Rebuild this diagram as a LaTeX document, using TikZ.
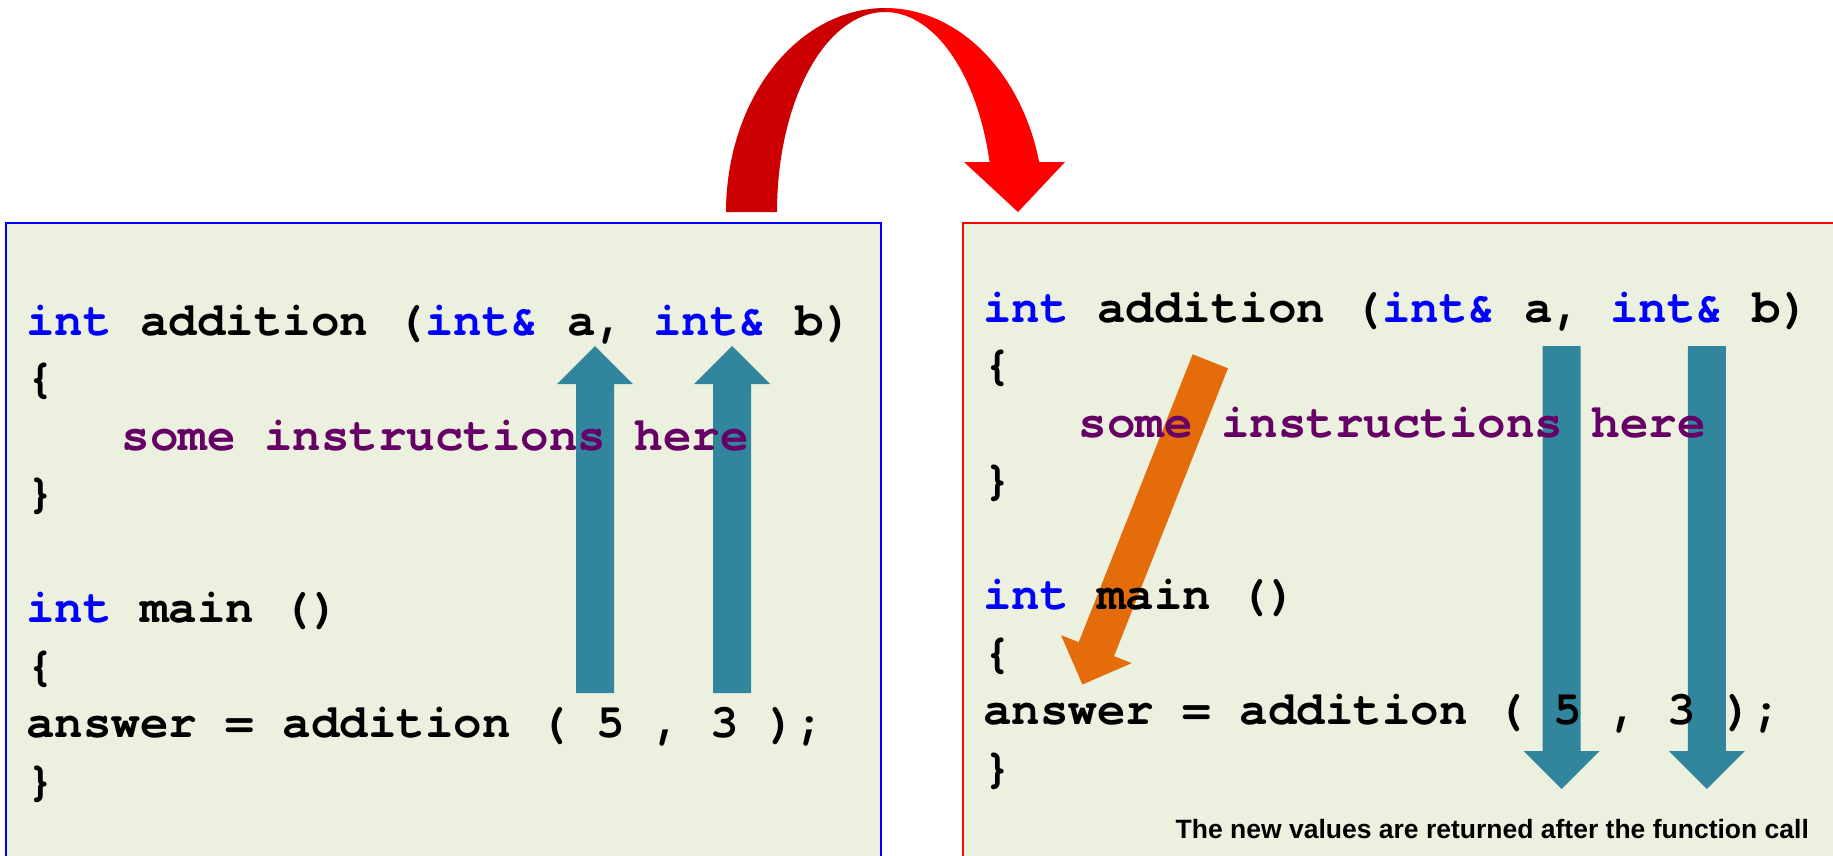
\documentclass[tikz,border=0pt]{standalone}
\usepackage{fontspec}
\newfontfamily\codefont{texgyrecursor}[Extension=.otf, UprightFont=*-regular, BoldFont=*-bold]
\newfontfamily\notefont{Liberation Sans}
\usetikzlibrary{calc}
\definecolor{panel}{HTML}{EBF1DE}
\definecolor{kwcol}{HTML}{0000FF}
\definecolor{stmt}{HTML}{660066}
\definecolor{flow}{HTML}{31859C}
\definecolor{back}{HTML}{E46C0A}
\definecolor{archdark}{HTML}{CC0000}
\definecolor{archlight}{HTML}{FF0000}
\newcommand\kwd[1]{\textcolor{kwcol}{#1}}
% block arrow: 38pt shaft, 76pt x 38pt head, from tail #2 to tip #3
\newcommand\blockarrow[4]{%
  \coordinate (#4base) at ($(#3)!38pt!(#2)$);
  \fill[#1] ($(#2)!19pt!90:(#3)$) -- ($(#4base)!19pt!90:(#3)$)
    -- ($(#4base)!38pt!90:(#3)$) -- (#3) -- ($(#4base)!38pt!-90:(#3)$)
    -- ($(#4base)!19pt!-90:(#3)$) -- ($(#2)!19pt!-90:(#3)$) -- cycle;}
\begin{document}
\begin{tikzpicture}[x=1pt,y=-1pt,
  codeline/.style={anchor=base west, inner sep=0pt,
    font=\codefont\bfseries\fontsize{47.5}{57.5}\selectfont},
  note/.style={anchor=base west, inner sep=0pt,
    font=\notefont\bfseries\fontsize{26.5}{32}\selectfont},
  panelbox/.style={fill=panel, line width=2.5pt}]
\useasboundingbox (0,0) rectangle (1833,855);
\clip (0,0) rectangle (1833,855);
\fill[white] (0,0) rectangle (1833,855);

% arching call arrow: darker rising half, bright falling half with head
\fill[archdark]
  plot[domain=180:90,samples=60] ({885+159*cos(\x)},{212-204*sin(\x)})
  -- plot[domain=90:180,samples=60] ({885+108*cos(\x)},{212-200*sin(\x)})
  -- cycle;
\fill[archlight]
  plot[domain=90:14.19,samples=60] ({885+159*cos(\x)},{212-204*sin(\x)})
  -- (1065,162) -- (1018,212) -- (964,162)
  -- plot[domain=14.48:90,samples=60] ({885+108*cos(\x)},{212-200*sin(\x)})
  -- cycle;

% panels
\draw[panelbox, draw=blue] (6,223) rectangle (881,900);
\draw[panelbox, draw=red] (963,223) rectangle (1900,900);

% argument flow arrows
\coordinate (aTail) at (595,693);    \coordinate (aTip) at (595,346);
\coordinate (bTail) at (732,693);    \coordinate (bTip) at (732,346);
\coordinate (cTail) at (1561.5,346); \coordinate (cTip) at (1561.5,789);
\coordinate (dTail) at (1706.8,346); \coordinate (dTip) at (1706.8,789);
\coordinate (eTail) at (1210.3,361.3); \coordinate (eTip) at (1082.4,684.5);
\blockarrow{flow}{aTail}{aTip}{a}
\blockarrow{flow}{bTail}{bTip}{b}
\blockarrow{flow}{cTail}{cTip}{c}
\blockarrow{flow}{dTail}{dTip}{d}
\blockarrow{back}{eTail}{eTip}{e}

% caller-side code
\node[codeline] (l1) at (26,335)   {\kwd{int} addition (\kwd{int\&} a, \kwd{int\&} b)};
\node[codeline] (l2) at (26,392.5) {\{};
\node[codeline, text=stmt] (l3) at (121.5,450) {some instructions here};
\node[codeline] (l4) at (26,507.5) {\}};
\node[codeline] (l6) at (26,622.5) {\kwd{int} main ()};
\node[codeline] (l7) at (26,680)   {\{};
\node[codeline] (l8) at (26,737.5) {answer = addition ( 5 , 3 );};
\node[codeline] (l9) at (26,795)   {\}};

% function-side code
\node[codeline] (r1) at (983,322)   {\kwd{int} addition (\kwd{int\&} a, \kwd{int\&} b)};
\node[codeline] (r2) at (983,379.5) {\{};
\node[codeline, text=stmt] (r3) at (1078.5,437) {some instructions here};
\node[codeline] (r4) at (983,494.5) {\}};
\node[codeline] (r6) at (983,609.5) {\kwd{int} main ()};
\node[codeline] (r7) at (983,667)   {\{};
\node[codeline] (r8) at (983,724.5) {answer = addition ( 5 , 3 );};
\node[codeline] (r9) at (983,782)   {\}};

\node[note] (caption) at (1175.5,838) {The new values are returned after the function call};
\end{tikzpicture}
\end{document}
